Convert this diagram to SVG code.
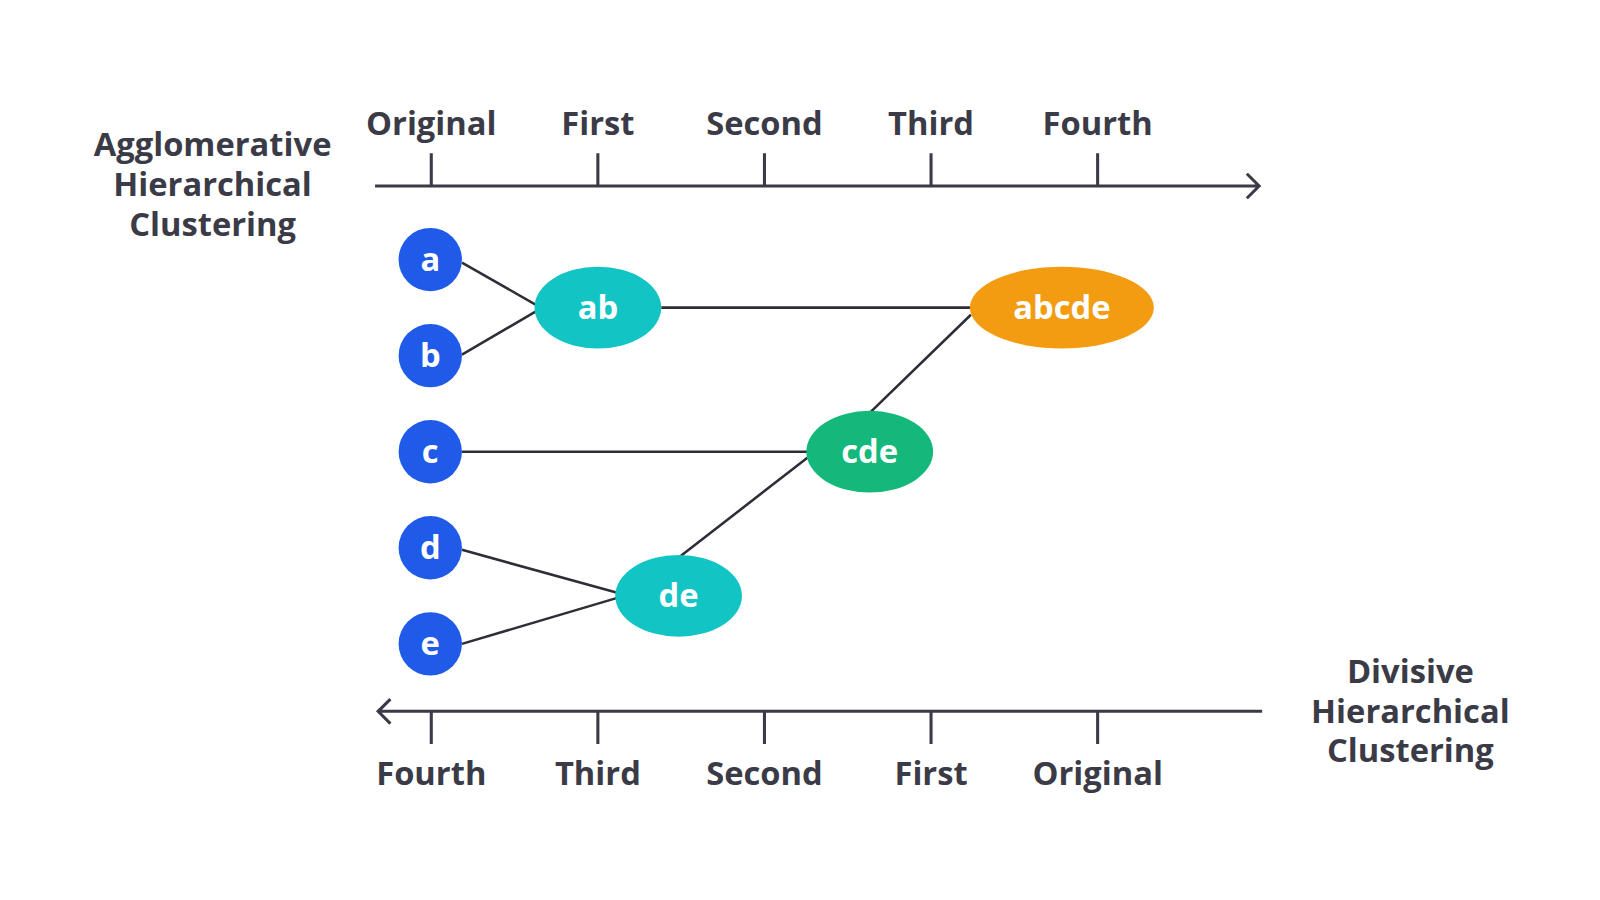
<svg xmlns="http://www.w3.org/2000/svg" width="1600" height="900" viewBox="0 0 1600 900">
<style>
text{font-family:"Open Sans","Noto Sans",sans-serif;font-weight:700;text-anchor:middle}
.lbl{font-size:32px;fill:#3b3b47}
.n{font-size:32px;fill:#fff}
.ax{stroke:#3b3b47;stroke-width:3;fill:none}
.ln{stroke:#2e2e38;stroke-width:2.5;fill:none}
</style>
<rect width="1600" height="900" fill="#fff"/>
<g transform="scale(1.022)">
<g id="axes">
<path class="ax" d="M367 182H1232M1220 170L1232 182L1220 194M422 150V182M585 150V182M748 150V182M911 150V182M1074 150V182"/>
<path class="ax" d="M1235 696H370M382 684L370 696L382 708M422 696V728M585 696V728M748 696V728M911 696V728M1074 696V728"/>
<g class="lbl"><text x="422" y="132">Original</text><text x="585" y="132">First</text><text x="748" y="132">Second</text><text x="911" y="132">Third</text><text x="1074" y="132">Fourth</text>
<text x="422" y="768">Fourth</text><text x="585" y="768">Third</text><text x="748" y="768">Second</text><text x="911" y="768">First</text><text x="1074" y="768">Original</text>
<text x="208" y="153">Agglomerative</text><text x="208" y="192">Hierarchical</text><text x="208" y="231">Clustering</text>
<text x="1380" y="668">Divisive</text><text x="1380" y="707">Hierarchical</text><text x="1380" y="746">Clustering</text></g>
</g>
<g id="connectors" class="ln">
<path d="M452 257L524 298M452 347L524 305M647 301H950M950 308L852 403M452 442H790M790 448L666 544M452 538L604 580M452 630L604 585"/>
</g>
<g id="a"><circle cx="421" cy="254" r="31" fill="#1f5ae8"/><text class="n" x="421" y="265">a</text></g>
<g id="b"><circle cx="421" cy="348" r="31" fill="#1f5ae8"/><text class="n" x="421" y="359">b</text></g>
<g id="c"><circle cx="421" cy="442" r="31" fill="#1f5ae8"/><text class="n" x="421" y="453">c</text></g>
<g id="d"><circle cx="421" cy="536" r="31" fill="#1f5ae8"/><text class="n" x="421" y="547">d</text></g>
<g id="e"><circle cx="421" cy="630" r="31" fill="#1f5ae8"/><text class="n" x="421" y="641">e</text></g>
<g id="ab"><ellipse cx="585" cy="301" rx="62" ry="40" fill="#13c4c4"/><text class="n" x="585" y="312">ab</text></g>
<g id="abcde"><ellipse cx="1039" cy="301" rx="90" ry="40" fill="#f39c12"/><text class="n" x="1039" y="312">abcde</text></g>
<g id="cde"><ellipse cx="851" cy="442" rx="62" ry="40" fill="#14b87a"/><text class="n" x="851" y="453">cde</text></g>
<g id="de"><ellipse cx="664" cy="583" rx="62" ry="40" fill="#13c4c4"/><text class="n" x="664" y="594">de</text></g>
</g>
</svg>
